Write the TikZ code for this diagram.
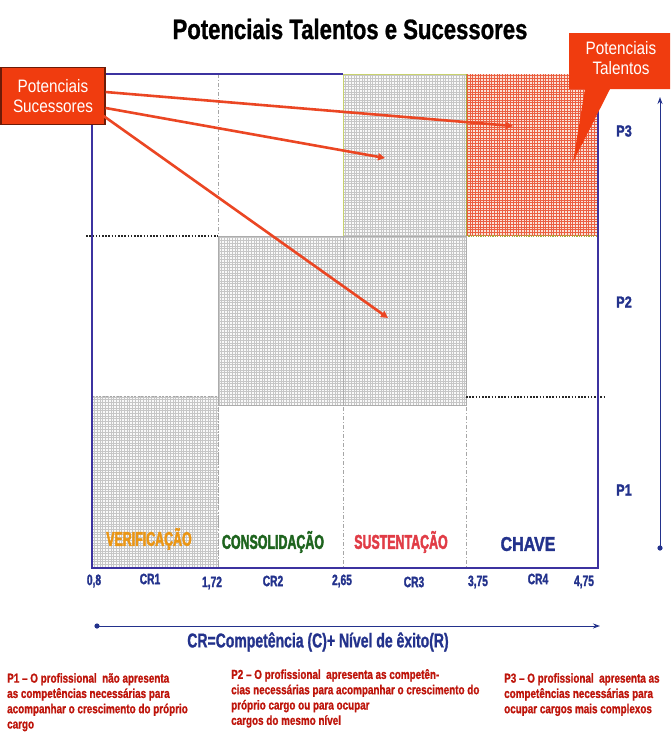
\documentclass[tikz,border=0pt]{standalone}
\usepackage{fontspec}
\setmainfont{Liberation Sans}
\newfontfamily\titlef[FakeStretch=0.79,FakeBold=1.0]{Liberation Sans Bold}
\newfontfamily\condf[FakeStretch=0.85]{Liberation Sans}
\newfontfamily\condbf[FakeStretch=0.8,FakeBold=1.5]{Liberation Sans Bold}
\newfontfamily\crf[FakeStretch=0.70,FakeBold=1.0]{Liberation Sans Bold}
\newfontfamily\narrowbf[FakeStretch=0.62,FakeBold=2.0]{Liberation Sans Bold}
\newfontfamily\axisf[FakeStretch=0.68,FakeBold=1.5]{Liberation Sans Bold}
\newfontfamily\descf[FakeStretch=0.76,FakeBold=1.0]{Liberation Sans Bold}
\usetikzlibrary{arrows.meta}
\definecolor{navy}{RGB}{35,50,140}
\definecolor{framecol}{RGB}{60,50,160}
\definecolor{callred}{RGB}{240,60,15}
\definecolor{arrred}{RGB}{235,70,35}
\definecolor{txtred}{RGB}{190,20,10}
\definecolor{lblorange}{RGB}{235,150,20}
\definecolor{lblgreen}{RGB}{30,100,30}
\definecolor{lblpink}{RGB}{225,60,70}
\definecolor{redbg}{RGB}{250,225,215}
\definecolor{redln}{RGB}{235,95,65}
\definecolor{olive}{RGB}{170,170,60}
\definecolor{ygreen}{RGB}{200,210,110}
\newcommand\mygrid[4]{\fill[#1] #3 rectangle #4; \draw[#2, line width=0.35pt, step=2.7pt] #3 grid #4;}
\begin{document}
\begin{tikzpicture}[x=1pt,y=-1pt,
  zonelbl/.style={font=\narrowbf\fontsize{20}{22}\selectfont},
  axlbl/.style={text=navy, font=\axisf\fontsize{15}{16}\selectfont},
  plbl/.style={text=navy, font=\condbf\fontsize{16}{18}\selectfont},
  desc/.style={text=txtred, anchor=north west, align=left, inner sep=0pt, font=\descf\fontsize{13}{15.3}\selectfont},
  calltxt/.style={text=white, align=center, font=\condf\fontsize{18}{19.5}\selectfont},
  redarrow/.style={draw=arrred, line width=2.6pt, -{Triangle[length=7pt,width=7pt]}},
  vdash/.style={draw=gray!70, line width=0.7pt, dash pattern=on 4pt off 2pt on 1pt off 2pt},
  bdot/.style={draw=black!85, line width=1.8pt, dash pattern=on 1.6pt off 1.6pt},
  axisline/.style={draw=navy, line width=0.9pt, -{Stealth[length=7pt,width=5pt]}}
]
\useasboundingbox (0,0) rectangle (670,742);
\fill[white] (0,0) rectangle (670,742);

% title
\node[font=\titlef\fontsize{28}{30}\selectfont] (title) at (350,29) {Potenciais Talentos e Sucessores};

% dashed vertical separators
\draw[vdash] (218,74) -- (218,568);
\draw[vdash] (343,236) -- (343,568);
\draw[vdash] (466,236) -- (466,568);

% grid zones
\mygrid{gray!5}{gray!45}{(343,74)}{(466,236)}
\draw[ygreen, line width=0.8pt] (343,236) -- (343,74) -- (466,74);
\mygrid{redbg}{redln}{(466,74)}{(598,236)}
\draw[olive, line width=0.8pt] (466,236) -- (466,74);
\draw[olive, line width=1.2pt, dash pattern=on 1.2pt off 1.2pt] (466,236) -- (598,236);
\mygrid{gray!5}{gray!45}{(218,236)}{(343,405)}
\draw[gray!65, line width=0.8pt] (218,236) rectangle (343,405);
\mygrid{gray!5}{gray!45}{(343,236)}{(466,405)}
\draw[gray!65, line width=0.8pt] (343,236) rectangle (466,405);
\mygrid{gray!5}{gray!45}{(92,396)}{(218,568)}
\draw[gray!70, line width=0.8pt, dash pattern=on 2pt off 1.5pt] (92,396) -- (218,396) -- (218,568);

% dotted level separators
\draw[bdot] (86,236) -- (218,236);
\draw[bdot] (466,397) -- (605,397);

% frame
\draw[framecol, line width=2pt] (343,74) -- (92,74) -- (92,568) -- (598,568) -- (598,74);

% zone labels
\node[zonelbl, text=lblorange] (verif) at (149,539) {VERIFICAÇÃO};
\node[zonelbl, text=lblgreen] (consol) at (273,542) {CONSOLIDAÇÃO};
\node[zonelbl, text=lblpink] (sust) at (401,542) {SUSTENTAÇÃO};
\node[text=navy, font=\condbf\fontsize{20}{22}\selectfont] (chave) at (528,544) {CHAVE};

% axis values
\node[axlbl] (v08) at (94,581) {0,8};
\node[axlbl] (cr1) at (150,579) {CR1};
\node[axlbl] (v172) at (212,583) {1,72};
\node[axlbl] (cr2) at (273,581) {CR2};
\node[axlbl] (v265) at (342,581) {2,65};
\node[axlbl] (cr3) at (414,582) {CR3};
\node[axlbl] (v375) at (478,582) {3,75};
\node[axlbl] (cr4) at (538,579) {CR4};
\node[axlbl] (v475) at (584,582) {4,75};

% level labels
\node[plbl] (p3) at (624,131) {P3};
\node[plbl] (p2) at (624,302) {P2};
\node[plbl] (p1) at (624,490) {P1};

% vertical axis
\coordinate (vbot) at (660,548);
\coordinate (vtop) at (660,97);
\fill[navy] (vbot) circle (2.6);
\draw[axisline] (vbot) -- (vtop);

% horizontal axis
\coordinate (hl) at (97,626);
\coordinate (hr) at (600,626);
\fill[navy] (hl) circle (2.6);
\draw[axisline] (hl) -- (hr);
\node[text=navy, font=\crf\fontsize{20}{22}\selectfont] (crlbl) at (318,642) {CR=Competência (C)+ Nível de êxito(R)};

% descriptions
\node[desc] (d1) at (7,673) {P1 – O profissional\ \ não apresenta\\as competências necessárias para\\acompanhar o crescimento do próprio\\cargo};
\node[desc] (d2) at (231,669) {P2 – O profissional\ \ apresenta as competên-\\cias necessárias para acompanhar o crescimento do\\próprio cargo ou para ocupar\\cargos do mesmo nível};
\node[desc] (d3) at (504,673) {P3 – O profissional\ \ apresenta as\\competências necessárias para\\ocupar cargos mais complexos};

% right callout
\fill[callred] (569,33) -- (670,33) -- (670,89) -- (610,89) -- (573,162) -- (585,89) -- (569,89) -- cycle;
\node[calltxt] (pt) at (621,58) {Potenciais\\Talentos};

% left callout
\node[fill=callred, draw=black!55!callred, line width=1.2pt, minimum width=104pt, minimum height=57pt, inner sep=0pt, calltxt] (ps) at (53,96) {Potenciais\\Sucessores};

% arrows from Potenciais Sucessores
\coordinate (t1) at (513,126);
\coordinate (t2) at (385,158);
\coordinate (t3) at (388,318);
\draw[redarrow] ([yshift=4pt]ps.east) -- (t1);
\draw[redarrow] ([yshift=-12pt]ps.east) -- (t2);
\draw[redarrow] ([yshift=-20pt,xshift=-2pt]ps.east) -- (t3);
\end{tikzpicture}
\end{document}
